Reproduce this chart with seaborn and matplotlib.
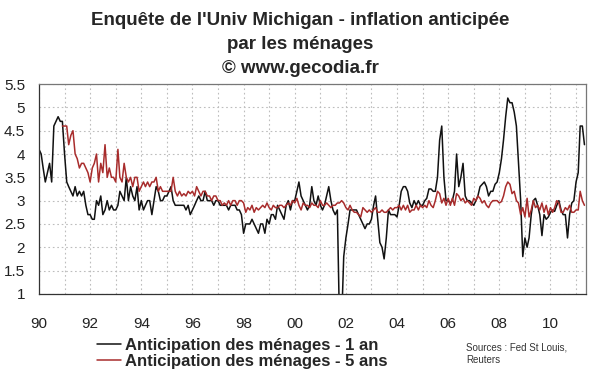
import pandas as pd
import numpy as np
import matplotlib
matplotlib.use("Agg")
import matplotlib.pyplot as plt
import matplotlib.dates as mdates
import seaborn as sns

# inflation anticipée à 1 an (Michigan), mensuel jan 1990 -> mai 2011
un_an = [
    4.1, 4.0, 3.7, 3.4, 3.6, 3.8, 3.4, 4.6, 4.7, 4.8, 4.7, 4.7,  # 1990
    4.0, 3.4, 3.3, 3.2, 3.1, 3.3, 3.1, 3.2, 3.1, 3.2, 2.9, 2.7,  # 1991
    2.7, 2.6, 2.6, 3.0, 2.9, 3.1, 2.7, 2.8, 3.0, 2.8, 2.9, 2.8,  # 1992
    2.8, 2.9, 3.2, 3.1, 3.0, 3.5, 3.0, 3.3, 3.1, 3.0, 3.3, 2.8,  # 1993
    3.0, 2.8, 2.9, 3.0, 3.0, 2.7, 3.0, 3.3, 3.2, 3.0, 3.0, 3.1,  # 1994
    3.1, 3.2, 3.3, 3.0, 2.9, 2.9, 2.9, 2.9, 2.9, 2.8, 2.9, 2.7,  # 1995
    2.8, 2.9, 3.0, 3.1, 3.0, 3.0, 3.2, 3.0, 3.0, 3.0, 2.9, 3.0,  # 1996
    3.0, 2.9, 2.9, 2.9, 2.9, 2.8, 2.9, 2.9, 2.9, 2.8, 2.8, 2.7,  # 1997
    2.3, 2.5, 2.5, 2.5, 2.6, 2.5, 2.4, 2.3, 2.5, 2.5, 2.3, 2.6,  # 1998
    2.5, 2.7, 2.7, 2.6, 2.9, 2.8, 2.7, 2.6, 2.9, 3.0, 2.8, 3.0,  # 1999
    3.0, 3.2, 3.4, 3.1, 3.0, 2.9, 2.8, 2.9, 3.3, 3.0, 2.9, 3.1,  # 2000
    2.9, 2.8, 2.9, 3.1, 3.3, 3.0, 2.8, 2.7, 2.8, 0.4, 0.4, 1.8,  # 2001
    2.2, 2.5, 2.8, 2.8, 2.8, 2.8, 2.7, 2.6, 2.5, 2.4, 2.5, 2.5,  # 2002
    2.6, 2.9, 3.1, 2.6, 2.1, 2.0, 1.75, 2.2, 2.8, 2.7, 2.7, 2.7,  # 2003
    2.65, 2.9, 3.2, 3.3, 3.3, 3.2, 2.95, 2.85, 3.0, 2.9, 3.0, 2.9,  # 2004
    2.9, 3.0, 3.05, 3.25, 3.25, 3.2, 3.2, 3.5, 4.3, 4.6, 3.5, 3.0,  # 2005
    3.0, 2.95, 3.0, 3.2, 4.0, 3.3, 3.5, 3.8, 3.1, 3.0, 3.0, 2.95,  # 2006
    2.9, 3.0, 3.1, 3.3, 3.35, 3.4, 3.3, 3.1, 3.2, 3.2, 3.35, 3.4,  # 2007
    3.6, 3.9, 4.3, 4.8, 5.2, 5.1, 5.1, 4.9, 4.6, 3.8, 3.0, 1.8,  # 2008
    2.2, 2.0, 2.2, 2.7, 3.0, 3.05, 2.9, 2.7, 2.25, 2.7, 2.6, 2.65,  # 2009
    2.75, 2.8, 2.77, 2.9, 3.0, 2.8, 2.7, 2.7, 2.2, 2.7, 2.95, 3.0,  # 2010
    3.4, 3.6, 4.6, 4.6, 4.2,  # 2011
]

# inflation anticipée à 5 ans
cinq_ans = [
    np.nan, np.nan, np.nan, np.nan, np.nan, np.nan, np.nan, np.nan, np.nan, np.nan, np.nan, 4.6,  # 1990
    4.6, 4.6, 4.2, 4.4, 4.5, 4.0, 3.9, 3.7, 3.8, 3.8, 3.7, 3.6,  # 1991
    3.4, 3.7, 3.8, 4.0, 3.4, 3.8, 3.6, 4.2, 3.5, 3.7, 3.5, 3.5,  # 1992
    3.4, 4.1, 3.5, 3.4, 3.8, 3.5, 3.4, 3.5, 3.3, 3.5, 3.5, 3.2,  # 1993
    3.3, 3.4, 3.3, 3.4, 3.3, 3.4, 3.4, 3.5, 3.2, 3.3, 3.2, 3.2,  # 1994
    3.2, 3.2, 3.2, 3.5, 3.2, 3.1, 3.2, 3.1, 3.15, 3.1, 3.2, 3.15,  # 1995
    3.2, 3.1, 3.3, 3.2, 3.1, 3.2, 3.2, 3.1, 3.1, 3.0, 3.1, 3.1,  # 1996
    3.0, 3.0, 2.9, 2.95, 2.9, 3.0, 2.9, 3.0, 3.0, 2.9, 3.0, 3.0,  # 1997
    2.95, 2.75, 2.85, 2.8, 2.9, 2.75, 2.85, 2.8, 2.85, 2.9, 2.85, 2.95,  # 1998
    2.85, 2.8, 2.9, 2.85, 2.85, 2.9, 2.9, 2.85, 2.9, 2.95, 2.9, 3.0,  # 1999
    2.95, 3.05, 2.9, 2.8, 2.95, 2.9, 2.9, 2.85, 2.95, 2.9, 2.9, 2.85,  # 2000
    3.0, 2.9, 2.9, 2.95, 2.9, 2.85, 2.9, 2.9, 2.95, 2.95, 3.0, 2.95,  # 2001
    2.85, 2.8, 2.9, 2.8, 2.75, 2.75, 2.7, 2.65, 2.85, 2.8, 2.75, 2.8,  # 2002
    2.75, 2.8, 2.85, 2.75, 2.75, 2.8, 2.75, 2.75, 2.8, 2.85, 2.8, 2.85,  # 2003
    2.85, 2.9, 2.8, 2.9, 2.8, 2.9, 2.75, 2.8, 2.8, 2.9, 2.8, 2.9,  # 2004
    2.85, 2.9, 2.85, 3.0, 2.9, 2.85, 3.0, 3.2, 3.15, 2.95, 3.05, 2.9,  # 2005
    3.05, 2.9, 3.05, 2.9, 3.15, 3.1, 3.0, 3.05, 2.95, 3.0, 2.95, 2.9,  # 2006
    3.05, 3.0, 3.1, 3.05, 2.95, 3.0, 2.9, 2.85, 2.95, 3.0, 3.0, 3.0,  # 2007
    2.95, 2.98, 3.1, 3.3, 3.4, 3.35, 3.15, 3.2, 3.0, 2.95, 2.7, 2.85,  # 2008
    2.65, 3.05, 2.65, 2.8, 3.0, 2.85, 2.9, 2.8, 2.95, 2.75, 2.9, 2.7,  # 2009
    2.85, 2.75, 2.85, 3.0, 2.95, 2.75, 2.75, 2.85, 2.8, 2.9, 2.75, 2.75,  # 2010
    2.8, 2.8, 3.2, 3.0, 2.9,  # 2011
]

mois = pd.date_range("1990-01-01", periods=len(un_an), freq="MS")
yticks = [1, 1.5, 2, 2.5, 3, 3.5, 4, 4.5, 5, 5.5]
ytick_labels = ["1", "1.5", "2", "2.5", "3", "3.5", "4", "4.5", "5", "5.5"]
noms = ["Anticipation des ménages - 1 an", "Anticipation des ménages - 5 ans"]
couleurs = ["#111111", "#a82c2c"]

sns.set_style("white")
plt.rcParams["font.family"] = ["Liberation Sans", "DejaVu Sans"]

fig = plt.figure(figsize=(6, 3.72), dpi=100)
ax = fig.add_axes([0.065, 0.21, 0.912, 0.564])

sns.lineplot(x=mois, y=un_an, color=couleurs[0], lw=1.1, ax=ax, label=noms[0])
sns.lineplot(x=mois, y=cinq_ans, color=couleurs[1], lw=1.1, ax=ax, label=noms[1])

ax.set_ylim(1, 5.5)
ax.set_xlim(pd.Timestamp("1990-01-01"), pd.Timestamp("2011-05-26"))
ax.set_yticks(yticks)
ax.set_yticklabels(ytick_labels)
ax.xaxis.set_major_locator(mdates.YearLocator(2))
ax.xaxis.set_minor_locator(mdates.YearLocator(1))
ax.xaxis.set_major_formatter(mdates.DateFormatter("%y"))

ax.grid(which="both", axis="x", ls=(0, (1.5, 2.5)), color="#bdbdbd", lw=0.8)
ax.grid(which="major", axis="y", ls=(0, (1.5, 2.5)), color="#bdbdbd", lw=0.8)
ax.tick_params(axis="x", which="major", direction="inout", length=9, width=0.8,
               pad=12, labelsize=11, colors="#222222")
ax.tick_params(axis="x", which="minor", length=0)
ax.tick_params(axis="y", direction="out", length=5, width=0.8, pad=5,
               labelsize=11, colors="#222222")
for s in ax.spines.values():
    s.set_color("#777777")
    s.set_linewidth(0.9)
ax.spines["left"].set_color("#333333")
ax.spines["bottom"].set_color("#333333")
ax.set_xlabel("")
ax.set_ylabel("")

ax.get_legend().remove()
h, l = ax.get_legend_handles_labels()
fig.legend(h, l, loc="upper left", bbox_to_anchor=(0.148, 0.115), frameon=False,
           prop={"weight": "bold", "size": 12}, handlelength=1.45,
           handletextpad=0.25, labelspacing=0.1, borderpad=0)

fig.text(0.5, 0.969, "Enquête de l'Univ Michigan - inflation anticipée\npar les ménages\n© www.gecodia.fr",
         ha="center", va="top", fontsize=13.5, fontweight="bold", linespacing=1.55)
fig.text(0.777, 0.078, "Sources : Fed St Louis,\nReuters", ha="left", va="top",
         fontsize=7, color="#333333", linespacing=1.3)

fig.savefig("out.png", dpi=100)
